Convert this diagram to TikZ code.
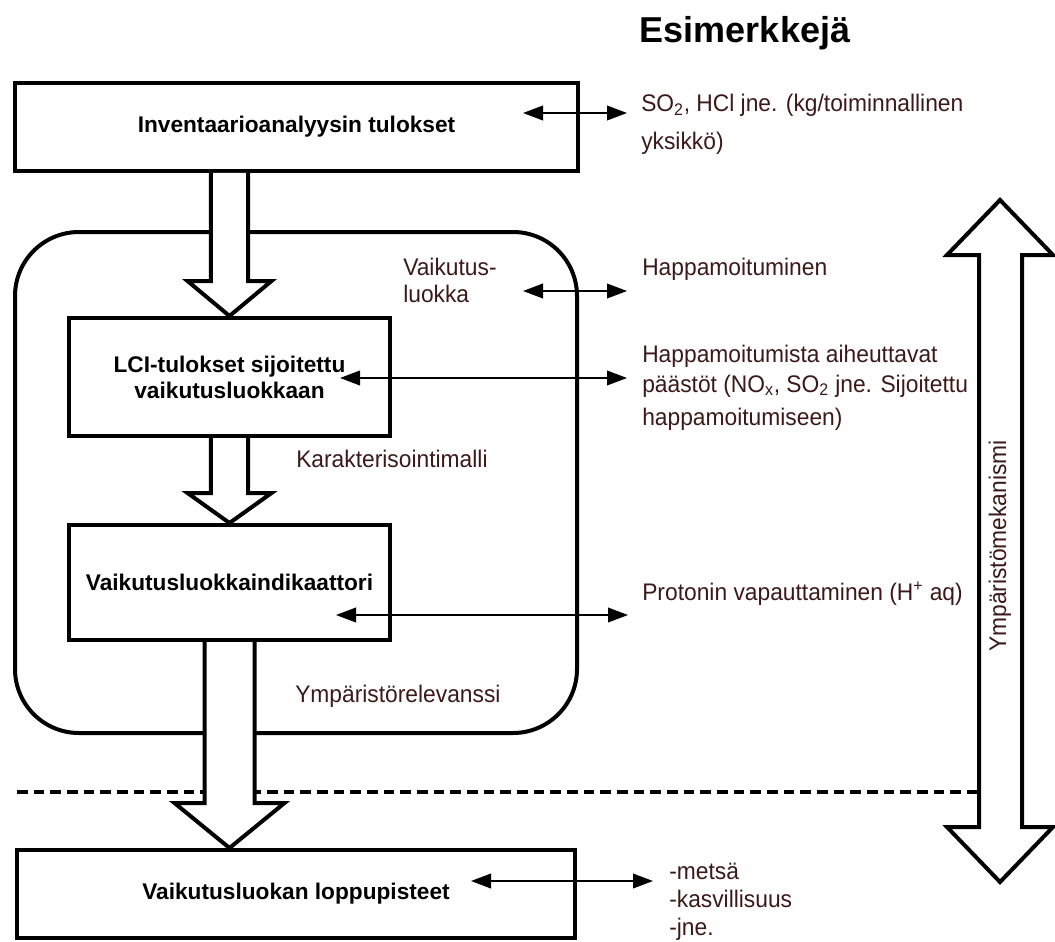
\documentclass[tikz,border=0pt]{standalone}
\usepackage{fontspec}
\setmainfont{Liberation Sans}
\newfontfamily\notefont[FakeStretch=0.95]{Liberation Sans}
\usetikzlibrary{arrows.meta,calc}

\definecolor{notebrown}{RGB}{60,25,25}

\tikzset{
    stage/.style    = {draw, line width=3pt, inner sep=0pt, align=center,
                       font=\bfseries\fontsize{17}{19.5}\selectfont},
    relevbox/.style = {draw, line width=3pt, rounded corners=48pt, inner sep=0pt},
    note/.style     = {text=notebrown, font=\notefont\fontsize{18}{22}\selectfont,
                       anchor=base west, inner sep=0pt},
    fatarrow/.style = {draw, fill=white, line width=3pt},
    dblarrow/.style = {{Triangle[length=15pt,width=11pt]}-{Triangle[length=15pt,width=11pt]},
                       line width=1.2pt},
    cutline/.style  = {line width=3pt, dash pattern=on 8pt off 4.5pt},
}

% block arrow: start, tip, shaft half width, head half width, head length
\newcommand{\fatdown}[5]{%
    \draw [fatarrow] let \p1 = #1, \p2 = #2 in
        (\x2-#3,\y1) -- (\x2-#3,\y2+#5) -- (\x2-#4,\y2+#5) -- (\x2,\y2)
        -- (\x2+#4,\y2+#5) -- (\x2+#3,\y2+#5) -- (\x2+#3,\y1);}

\begin{document}
\begin{tikzpicture}[x=0.75pt, y=-0.75pt]
    \useasboundingbox (0,0) rectangle (1055,941);

    % Nodes {boxes}
    \node [relevbox, minimum width=421.5pt, minimum height=375.75pt]   (relbox) at (296,482.5)   {};
    \node [stage, minimum width=422.25pt, minimum height=66pt]          (inv)    at (296.5,127)   {Inventaarioanalyysin tulokset};
    \node [stage, minimum width=240.75pt, minimum height=88.5pt]        (lci)    at (229.5,377)   {LCI-tulokset sijoitettu\\vaikutusluokkaan};
    \node [stage, minimum width=240.75pt, minimum height=86.25pt]       (ind)    at (229.5,582.5) {Vaikutusluokkaindikaattori};
    \node [stage, minimum width=418.5pt, minimum height=66pt]           (endp)   at (296,894)     {Vaikutusluokan loppupisteet};

    % Dashed border
    \coordinate (cut-l) at (17,792);
    \coordinate (cut-r) at (1023,792);
    \draw [cutline] (cut-l) -- (cut-r);

    % Block arrows
    \fatdown{(inv.south -| lci.north)}{(lci.north)}{13.9pt}{31.5pt}{26.25pt}
    \fatdown{(lci.south)}{(ind.north)}{13.9pt}{31.5pt}{22.5pt}
    \fatdown{(ind.south)}{(endp.north -| ind.south)}{18.75pt}{41.25pt}{33.75pt}

    % Environmental mechanism arrow
    \draw [fatarrow] (1000,200) -- (1053,255) -- (1022,255) -- (1022,827) -- (1053,827)
        -- (1000,882) -- (947,827) -- (979,827) -- (979,255) -- (947,255) -- cycle;
    \node [note, anchor=center, rotate=90] (mech) at (1000,546) {Ympäristömekanismi};

    % Nodes {texts}
    \node [font=\bfseries\fontsize{27}{32}\selectfont, anchor=base, inner sep=0pt] (ex) at (745,43) {Esimerkkejä};
    \node [note] (so-a)   at (641,112) {SO\textsubscript{2}, HCl jne. (kg/toiminnallinen};
    \node [note] (so-b)   at (641,150) {yksikkö)};
    \node [note] (cat-a)  at (403,275) {Vaikutus-};
    \node [note] (cat-b)  at (403,302) {luokka};
    \node [note] (acid)   at (642,275) {Happamoituminen};
    \node [note] (emi-a)  at (642,362) {Happamoitumista aiheuttavat};
    \node [note] (emi-b)  at (642,392) {päästöt (NO\textsubscript{x}, SO\textsubscript{2} jne. Sijoitettu};
    \node [note] (emi-c)  at (642,425) {happamoitumiseen)};
    \node [note] (char)   at (296,467) {Karakterisointimalli};
    \node [note] (prot)   at (642,600) {Protonin vapauttaminen (H\textsuperscript{+} aq)};
    \node [note] (envrel) at (295,702) {Ympäristörelevanssi};
    \node [note] (ep-a)   at (669,879) {-metsä};
    \node [note] (ep-b)   at (669,907) {-kasvillisuus};
    \node [note] (ep-c)   at (669,935) {-jne.};

    % Paths {examples}
    \coordinate (inv-e)  at (523,113);  \coordinate (so-w)   at (627,113);
    \coordinate (cat-e)  at (523,291);  \coordinate (acid-w) at (627,291);
    \coordinate (lci-e)  at (340,378);  \coordinate (emi-w)  at (627,378);
    \coordinate (ind-e)  at (336,615);  \coordinate (prot-w) at (628,615);
    \coordinate (endp-e) at (471,881);  \coordinate (ep-w)   at (653,881);

    \path [dblarrow] (inv-e)  edge (so-w);
    \path [dblarrow] (cat-e)  edge (acid-w);
    \path [dblarrow] (lci-e)  edge (emi-w);
    \path [dblarrow] (ind-e)  edge (prot-w);
    \path [dblarrow] (endp-e) edge (ep-w);

\end{tikzpicture}
\end{document}
